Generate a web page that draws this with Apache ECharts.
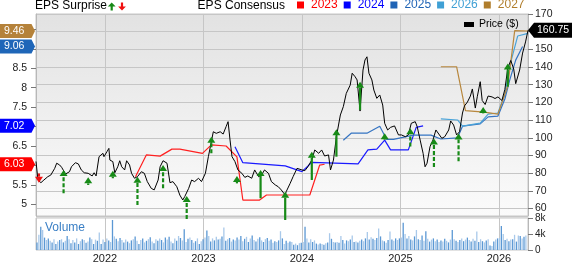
<!DOCTYPE html>
<html><head><meta charset="utf-8">
<script src="https://cdn.jsdelivr.net/npm/echarts@6/dist/echarts.min.js"></script>
<style>html,body{margin:0;padding:0;background:#fff}#c{width:573px;height:264px}</style>
</head><body><div id="c"></div>
<script>
// ---- axis ranges (decimal years / $ / EPS) ----
const xMin = 2021.30, xMax = 2026.295;
const yearTicks = [2022, 2023, 2024, 2025, 2026];
const epsTicks = [5, 5.5, 6, 6.5, 7, 7.5, 8, 8.5, 9, 9.5];

// ---- price ----
const priceTimes = [
2021.30,2021.32,2021.35,2021.38,2021.42,2021.45,2021.49,2021.51,2021.54,2021.56,
2021.60,2021.64,2021.66,2021.70,2021.73,2021.76,2021.79,2021.83,2021.87,2021.89,
2021.91,2021.94,2021.96,2021.98,2021.99,2022.02,2022.04,2022.05,2022.08,2022.10,
2022.13,2022.15,2022.17,2022.20,2022.22,2022.25,2022.27,2022.30,2022.33,2022.37,
2022.40,2022.43,2022.47,2022.50,2022.54,2022.56,2022.59,2022.63,2022.66,2022.69,
2022.73,2022.76,2022.79,2022.81,2022.85,2022.88,2022.91,2022.95,2022.98,2023.02,
2023.05,2023.07,2023.10,2023.13,2023.17,2023.20,2023.23,2023.25,2023.27,2023.29,
2023.32,2023.35,2023.39,2023.42,2023.45,2023.49,2023.52,2023.56,2023.59,2023.62,
2023.66,2023.69,2023.73,2023.76,2023.79,2023.83,2023.84,2023.88,2023.91,2023.95,
2023.97,2024.00,2024.03,2024.06,2024.10,2024.13,2024.17,2024.20,2024.23,2024.27,
2024.29,2024.32,2024.35,2024.39,2024.42,2024.45,2024.49,2024.51,2024.54,2024.56,
2024.59,2024.62,2024.64,2024.66,2024.68,2024.71,2024.73,2024.76,2024.79,2024.82,
2024.84,2024.87,2024.90,2024.94,2024.98,2025.01,2025.05,2025.08,2025.11,2025.15,
2025.17,2025.20,2025.23,2025.25,2025.27,2025.30,2025.33,2025.36,2025.38,2025.42,
2025.45,2025.49,2025.51,2025.54,2025.57,2025.60,2025.63,2025.65,2025.68,2025.71,
2025.73,2025.76,2025.78,2025.81,2025.83,2025.86,2025.89,2025.93,2025.96,2025.99,
2026.03,2026.06,2026.09,2026.12,2026.15,2026.17,2026.21,2026.24,2026.27,2026.295];
const priceValues = [
86.6,76.1,74.6,76.1,78.0,78.9,82.7,85.6,84.6,83.3,
79.5,80.8,83.6,85.9,85.2,81.8,80.2,79.9,78.4,80.2,
78.4,89.3,90.2,91.2,89.3,92.1,94.0,87.4,86.5,80.2,
83.6,87.0,83.6,81.8,87.0,84.6,79.9,77.1,78.0,80.8,
79.9,75.2,71.4,70.5,76.1,83.6,87.0,85.6,74.6,75.2,
72.3,67.6,64.8,66.7,71.4,76.1,75.2,77.1,75.2,79.9,
89.3,94.9,103.4,102.5,103.4,102.1,106.3,109.1,98.7,89.3,
86.5,81.8,79.9,77.6,78.4,77.1,81.8,78.0,78.9,81.8,
79.9,75.2,73.3,72.3,70.5,67.6,69.5,74.2,78.0,82.7,
83.6,81.8,81.4,83.6,87.4,93.1,91.2,93.1,89.7,90.3,
81.8,87.4,100.6,112.9,117.6,125.1,129.8,136.5,134.5,132.7,
115.1,138.3,144.0,145.8,136.5,132.7,127.0,122.3,124.2,118.5,
108.2,104.4,105.9,106.7,101.6,101.6,100.6,101.6,108.2,109.1,
106.3,98.7,91.2,83.6,85.6,94.9,98.7,104.4,105.4,99.7,
100.6,104.4,109.5,107.2,101.6,103.4,114.0,118.0,120.2,123.6,
127.6,116.8,123.2,131.7,121.1,118.8,123.6,123.1,122.2,123.1,
121.1,127.3,139.5,143.7,138.9,130.6,138.3,147.9,154.2,160.75];

// ---- EPS consensus by fiscal year ----
const epsYears = ['2023','2024','2025','2026','2027'];
const eps2023Times = [2022.31,2022.42,2022.56,2022.68,2022.76,2022.99,2023.08,2023.23,2023.34,2023.40,2023.57,2023.64,2024.08,2024.18,2024.23];
const eps2023Values = [5.71,6.27,6.24,6.42,6.42,6.31,6.53,6.50,6.22,5.11,5.11,5.24,5.24,6.01,6.03];
const eps2024Times = [2023.32,2023.40,2023.83,2024.00,2024.10,2024.57,2024.67,2024.76,2024.84,2024.90,2025.08,2025.16,2025.23];
const eps2024Values = [6.48,6.07,5.99,5.84,6.08,6.04,6.40,6.42,6.65,6.40,6.40,6.98,7.02];
const eps2025Times = [2024.42,2024.50,2024.66,2024.79,2024.86,2024.93,2025.13,2025.31,2025.41,2025.58,2025.63,2025.81,2025.89,2025.99,2026.06,2026.11,2026.17,2026.24];
const eps2025Values = [6.65,6.83,6.83,7.01,6.67,6.67,6.78,6.78,6.68,6.71,7.01,7.07,7.25,7.27,7.71,8.20,8.71,9.06];
const eps2026Times = [2025.41,2025.58,2025.63,2025.81,2025.89,2025.99,2026.06,2026.12,2026.19,2026.295];
const eps2026Values = [7.20,7.17,7.01,7.09,7.32,7.35,7.84,8.66,9.33,9.40];
const eps2027Times = [2025.41,2025.57,2025.66,2025.85,2025.99,2026.09,2026.16,2026.295];
const eps2027Values = [8.54,8.54,7.41,7.37,7.32,8.05,9.47,9.46];
const epsBoxValues = [6.03, 7.02, 9.06, 9.46];

// ---- EPS surprise arrows (in $ price units) ----
const beatTimes = [2021.58,2021.83,2022.08,2022.33,2022.59,2022.83,2023.08,2023.34,2023.58,2023.83,2024.10,2024.35,2024.59,2024.84,2025.10,2025.34,2025.59,2025.84,2026.09];
const beatFrom  = [68.6,73.3,77.1,62.0,71.4,54.0,91.2,74.2,65.8,53.5,76.1,89.3,115.7,98.7,95.0,83.5,86.7,113.8,128.9];
const beatTo    = [81.8,77.6,81.4,78.0,84.6,67.1,100.6,78.4,81.8,69.5,92.1,104.8,131.7,102.5,105.4,99.6,102.4,117.4,142.0];
const beatSolid = [0,0,0,0,0,0,0,0,1,1,1,1,1,1,0,0,0,1,1];
const missTimes = [2021.33];
const missFrom  = [79.8];
const missTo    = [74.6];

// ---- weekly volume (thousands) ----
const volStart = 2021.31;
const volumes = [
1.9,3.8,5.8,5.0,3.1,2.5,2.9,2.3,1.9,2.7,1.5,2.1,2.5,
2.7,1.9,2.3,3.5,2.7,1.7,2.5,1.9,2.9,1.5,2.2,2.7,2.5,1.8,2.1,3.1,2.7,1.5,2.6,2.3,
4.4,1.5,2.6,2.0,2.9,2.4,2.0,7.5,3.4,2.8,2.2,3.0,2.5,1.9,2.6,2.1,1.7,2.4,
2.7,3.4,2.3,1.5,2.5,2.9,1.9,2.3,2.7,3.2,2.1,1.7,2.7,2.3,2.9,2.5,1.9,3.1,
2.6,3.3,2.1,1.7,2.9,2.3,3.5,3.0,2.4,5.2,2.0,2.8,3.1,2.5,1.8,2.2,2.9,1.5,
2.2,2.7,3.1,4.9,3.5,2.1,2.9,2.4,3.3,2.6,2.8,3.4,5.6,2.3,2.7,3.0,2.1,2.6,
2.4,3.1,2.6,3.5,2.2,2.8,3.3,2.0,2.9,3.6,2.5,2.1,2.8,3.2,2.4,2.0,2.7,3.0,
2.3,2.6,1.8,2.2,2.0,2.4,4.7,2.9,1.5,2.3,1.8,2.1,2.0,
1.3,1.6,1.2,1.7,1.8,2.0,5.8,2.9,1.9,2.7,2.0,2.4,1.6,1.4,1.6,1.5,1.3,1.7,1.9,
4.2,2.8,2.0,1.9,2.0,1.8,3.5,2.5,1.6,2.4,2.2,2.6,3.6,2.0,2.1,1.9,2.3,2.6,
2.2,2.9,4.5,2.6,3.2,2.8,2.5,3.0,5.4,3.4,2.4,2.2,1.8,2.5,4.6,2.6,2.3,2.9,
2.5,2.9,3.1,6.8,4.0,2.9,3.5,2.6,2.4,3.4,5.0,2.7,2.5,3.6,2.3,4.7,2.8,2.1,2.6,
2.9,2.2,2.6,2.0,2.4,2.1,2.8,2.3,1.9,2.6,5.0,2.7,2.3,2.0,2.5,2.9,2.2,2.6,
3.1,2.5,2.1,2.8,2.3,4.6,2.0,2.7,2.2,1.9,2.4,2.7,1.1,1.0,2.1,2.6,2.9,3.0,6.0,
4.0,2.5,2.8,2.2,2.6,2.7,3.8,2.1,3.6,3.5,2.9,3.3,3.6];
const volTimes = volumes.map((v, i) => volStart + i / 52.18);

// ---- styles ----
const FONT = '"Liberation Sans", Arial, Helvetica, sans-serif';
const lineColors = ['#ff2020', '#1a1aff', '#3574c2', '#4aa3d8', '#b8873d'];
const legendColors = ['#ff0000', '#0000ff', '#1f63b5', '#3fa0d5', '#b07d2b'];
const boxColors = ['#ff0000', '#0000ff', '#1f66b8', '#b5823a'];
const GRID_COLOR = '#c6c6c6';

const zip = (a, b) => a.map((t, i) => [t, b[i]]);
const epsSeriesData = [
  zip(eps2023Times, eps2023Values), zip(eps2024Times, eps2024Values),
  zip(eps2025Times, eps2025Values), zip(eps2026Times, eps2026Values),
  zip(eps2027Times, eps2027Values)];

const arrowData = beatTimes.map((t, i) => [t, beatFrom[i], beatTo[i], beatSolid[i], 0])
  .concat(missTimes.map((t, i) => [t, missFrom[i], missTo[i], 1, 1]));

function renderArrow(params, api) {
  const a = api.coord([api.value(0), api.value(1)]);
  const b = api.coord([api.value(0), api.value(2)]);
  const up = api.value(2) > api.value(1);
  const dir = up ? 1 : -1;
  const hh = 6, hw = 4;
  const color = api.value(4) ? '#f01010' : '#178a17';
  const baseY = b[1] + dir * hh;
  const lineStyle = { stroke: color, lineWidth: 2.2 };
  if (!api.value(3)) lineStyle.lineDash = [4, 2];
  return { type: 'group', children: [
    { type: 'line', shape: { x1: a[0], y1: a[1], x2: b[0], y2: baseY }, style: lineStyle },
    { type: 'polygon', shape: { points: [[b[0], b[1]], [b[0] - hw, baseY], [b[0] + hw, baseY]] }, style: { fill: color } }
  ]};
}

function renderEpsBox(params, api) {
  const p = api.coord([xMin, api.value(0)]);
  const x = p[0], y = p[1];
  const c = boxColors[params.dataIndex];
  return { type: 'group', children: [
    { type: 'polygon', shape: { points: [[x - 36, y - 7], [x - 4.5, y - 7], [x - 1, y], [x - 4.5, y + 7], [x - 36, y + 7]] }, style: { fill: c } },
    { type: 'text', style: { text: api.value(0).toFixed(2), x: x - 32, y: y, fill: '#fff', font: '10.5px ' + FONT, textAlign: 'left', textVerticalAlign: 'middle' } }
  ]};
}

function renderPriceBox(params, api) {
  const p = api.coord([xMax, api.value(0)]);
  const x = p[0], y = p[1];
  return { type: 'group', children: [
    { type: 'polygon', shape: { points: [[x, y], [x + 6, y - 7.5], [x + 44, y - 7.5], [x + 44, y + 7.5], [x + 6, y + 7.5]] }, style: { fill: '#000' } },
    { type: 'text', style: { text: api.value(0).toFixed(2), x: x + 9, y: y, fill: '#fff', font: '10.5px ' + FONT, textAlign: 'left', textVerticalAlign: 'middle' } }
  ]};
}

const chart = echarts.init(document.getElementById('c'), null, { renderer: 'canvas' });
const axisLabelStyle = { fontSize: 10.5, color: '#222', fontFamily: FONT };

const series = [
  { name: 'Price ($)', type: 'line', xAxisIndex: 0, yAxisIndex: 0, data: zip(priceTimes, priceValues),
    symbol: 'none', lineStyle: { color: '#000', width: 1 }, itemStyle: { color: '#000' }, z: 5 },
  { name: 'vol', type: 'bar', xAxisIndex: 1, yAxisIndex: 2, data: zip(volTimes, volumes), barWidth: 1.3,
    itemStyle: { color: p => (p.dataIndex % 2 ? '#a9c9ea' : '#5b98d4') } }
];
epsYears.forEach((n, i) => series.push({
  name: n, type: 'line', xAxisIndex: 0, yAxisIndex: 1, data: epsSeriesData[i],
  symbol: 'none', lineStyle: { color: lineColors[i], width: 1.2 }, itemStyle: { color: legendColors[i] }, z: 4
}));
series.push({ type: 'custom', xAxisIndex: 0, yAxisIndex: 0, data: arrowData, renderItem: renderArrow, clip: false, z: 6, encode: { x: 0, y: [1, 2] } });
series.push({ type: 'custom', xAxisIndex: 0, yAxisIndex: 1, data: epsBoxValues.map(v => [v]), renderItem: renderEpsBox, clip: false, z: 10, encode: { y: 0 } });
series.push({ type: 'custom', xAxisIndex: 0, yAxisIndex: 0, data: [[priceValues[priceValues.length - 1]]], renderItem: renderPriceBox, clip: false, z: 10, encode: { y: 0 } });

chart.setOption({
  animation: false,
  textStyle: { fontFamily: FONT },
  grid: [
    { left: 36, right: 45, top: 14, height: 202, show: true, borderColor: GRID_COLOR, borderWidth: 1,
      backgroundColor: new echarts.graphic.LinearGradient(0, 0, 0, 1, [{ offset: 0, color: '#e2e2e2' }, { offset: 1, color: '#fbfbfb' }]) },
    { left: 36, right: 45, top: 218, height: 35, show: true, borderColor: GRID_COLOR, borderWidth: 1, backgroundColor: '#ffffff' }
  ],
  xAxis: [
    { type: 'value', gridIndex: 0, min: xMin, max: xMax, splitNumber: 5,
      axisLine: { show: false }, axisTick: { show: false }, axisLabel: { show: false },
      splitLine: { show: true, lineStyle: { color: GRID_COLOR } } },
    { type: 'value', gridIndex: 1, min: xMin, max: xMax, splitNumber: 5,
      axisLine: { show: false }, axisTick: { show: false },
      axisLabel: { show: true, fontSize: 11, color: '#222', margin: 3, showMinLabel: false, showMaxLabel: false,
        formatter: v => (yearTicks.indexOf(Math.round(v)) >= 0 ? String(Math.round(v)) : '') },
      splitLine: { show: true, lineStyle: { color: GRID_COLOR } } }
  ],
  yAxis: [
    { type: 'value', gridIndex: 0, position: 'right', min: 55.75, max: 170, splitNumber: 11,
      axisLine: { show: true, lineStyle: { color: '#b8b8b8' } },
      axisTick: { show: true, length: 5, lineStyle: { color: '#777' } },
      axisLabel: Object.assign({ margin: 7, showMinLabel: false, hideOverlap: false }, axisLabelStyle),
      splitLine: { show: true, lineStyle: { color: GRID_COLOR } } },
    { type: 'value', gridIndex: 0, position: 'left', min: 4.699, max: 9.897,
      axisLine: { show: true, lineStyle: { color: '#b8b8b8' } },
      axisTick: { show: true, length: 5, customValues: epsTicks, lineStyle: { color: '#777' } },
      axisLabel: Object.assign({ margin: 9, customValues: epsTicks }, axisLabelStyle),
      splitLine: { show: false } },
    { type: 'value', gridIndex: 1, position: 'right', min: 0, max: 8, interval: 2,
      axisLine: { show: true, lineStyle: { color: '#b8b8b8' } },
      axisTick: { show: true, length: 5, lineStyle: { color: '#777' } },
      axisLabel: Object.assign({ margin: 7, showMinLabel: true, showMaxLabel: true, hideOverlap: false,
        formatter: v => (v === 0 ? '0' : v + 'k') }, axisLabelStyle, { fontSize: 10, lineHeight: 9 }),
      splitLine: { show: false } }
  ],
  legend: [
    { data: epsYears.map((n, i) => ({ name: n, itemStyle: { color: legendColors[i] }, textStyle: { color: legendColors[i] } })),
      left: 297, top: -1, padding: 0, itemWidth: 7, itemHeight: 7, itemGap: 6, icon: 'rect', selectedMode: false,
      textStyle: { fontSize: 12, fontFamily: FONT, padding: [0, 0, 0, 2] } },
    { data: ['Price ($)'], left: 464, top: 19, padding: 0, itemWidth: 10, itemHeight: 5, icon: 'rect', selectedMode: false,
      textStyle: { fontSize: 10.5, color: '#000', fontFamily: FONT } }
  ],
  graphic: [
    { type: 'rect', shape: { x: 36, y: 216, width: 492, height: 2 }, style: { fill: '#d8d8d8' }, silent: true },
    { type: 'text', left: 35, top: 0, style: { text: 'EPS Surprise', font: '12px ' + FONT, fill: '#000' } },
    { type: 'polygon', shape: { points: [[111.7, 2.5], [107.8, 6.5], [110.6, 6.5], [110.6, 10.5], [112.8, 10.5], [112.8, 6.5], [115.6, 6.5]] }, style: { fill: '#178a17' } },
    { type: 'polygon', shape: { points: [[122, 10.5], [118.1, 6.5], [120.9, 6.5], [120.9, 2.5], [123.1, 2.5], [123.1, 6.5], [125.9, 6.5]] }, style: { fill: '#f01010' } },
    { type: 'text', right: 573 - 285, top: 0, style: { text: 'EPS Consensus', font: '12px ' + FONT, fill: '#000' } },
    { type: 'text', left: 45, top: 222, style: { text: 'Volume', font: '12px ' + FONT, fill: '#3a7fc5' } }
  ],
  series: series
});
</script>
</body></html>
